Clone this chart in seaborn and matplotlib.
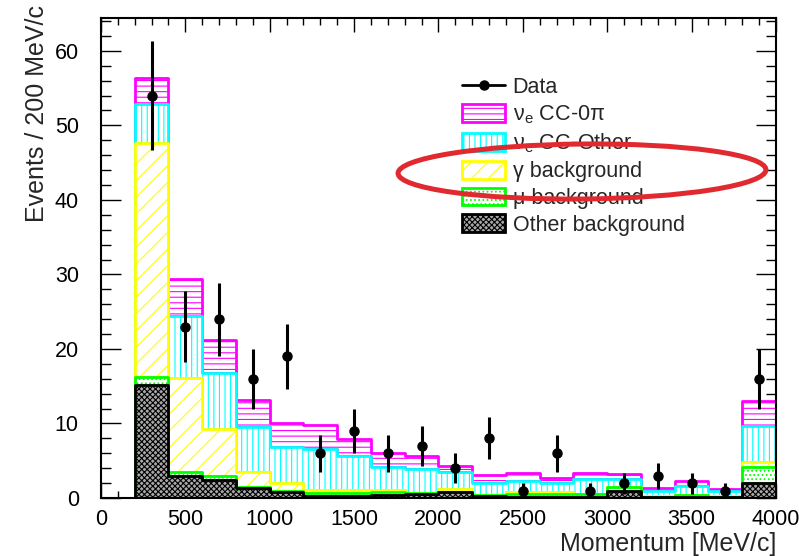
import numpy as np
import pandas as pd
import matplotlib
matplotlib.use("Agg")
import matplotlib.pyplot as plt
import seaborn as sns
from matplotlib.patches import Patch, Ellipse
from matplotlib.lines import Line2D
from matplotlib.ticker import MultipleLocator
from matplotlib.colors import to_rgb

# ---------------- data ----------------
bin_centers = [100, 300, 500, 700, 900, 1100, 1300, 1500, 1700, 1900,
               2100, 2300, 2500, 2700, 2900, 3100, 3300, 3500, 3700, 3900]
data_counts = [0, 54, 23, 24, 16, 19, 6, 9, 6, 7,
               4, 8, 1, 6, 1, 2, 3, 2, 1, 16]
other_bkg = [0, 15.2, 2.9, 2.4, 1.3, 0.8, 0.3, 0.3, 0.4, 0.6,
             0.8, 0.3, 0.2, 0.2, 0.2, 1.0, 0.15, 0.1, 0.1, 2.0]
mu_bkg = [0, 1.1, 0.6, 0.5, 0.2, 0.2, 0.4, 0.4, 0.4, 0.05,
          0.05, 0.05, 0.35, 0.35, 0.3, 0.45, 0.05, 0.25, 0.1, 2.1]
gamma_bkg = [0, 31.3, 12.6, 6.4, 2.0, 1.0, 0.4, 0.4, 0.3, 0.05,
             0.35, 0.05, 0.25, 0.25, 0.05, 0.05, 0.05, 0.05, 0.05, 0.7]
nue_cc_other = [0, 5.2, 8.3, 7.5, 6.0, 4.8, 5.5, 4.5, 3.1, 3.2,
                2.3, 1.6, 1.5, 1.2, 2.05, 1.1, 0.75, 1.2, 0.65, 4.8]
nue_cc0pi = [0, 3.5, 5.0, 4.4, 3.6, 3.2, 3.2, 2.3, 1.9, 1.8,
             0.8, 1.1, 1.0, 0.7, 0.8, 0.6, 0.3, 0.7, 0.3, 3.4]

component_names = ["cc0pi", "ccother", "gamma", "mu", "other"]
component_labels = [r"ν$_{\rm e}$ CC-0π", r"ν$_{\rm e}$ CC-Other",
                    "γ background", "μ background", "Other background"]
bin_width = 200
x_min, x_max = 0, 4000
y_max = 64.4

# ---------------- style ----------------
sns.set_theme(style="ticks")
plt.rcParams["font.family"] = ["Liberation Sans", "DejaVu Sans"]
plt.rcParams["mathtext.fontset"] = "custom"
plt.rcParams["mathtext.rm"] = "Liberation Sans"
plt.rcParams["mathtext.it"] = "Liberation Sans:italic"
plt.rcParams["hatch.linewidth"] = 0.8

colors = {"cc0pi": "#ff00ff", "ccother": "#00ffff", "gamma": "#ffff00",
          "mu": "#00ff00", "other": "#000000"}
hatches = {"cc0pi": "---", "ccother": "|||", "gamma": "//",
           "mu": "....", "other": "xxxxxx"}
faces = {"cc0pi": "white", "ccother": "white", "gamma": "white",
         "mu": "white", "other": "#a8a8a8"}
zorders = {"cc0pi": 2.0, "ccother": 2.1, "gamma": 2.2, "mu": 2.3, "other": 2.4}

fig = plt.figure(figsize=(7.99, 5.56), dpi=100)
ax = fig.add_axes([0.1264, 0.1043, 0.8448, 0.8633])

values = {"cc0pi": nue_cc0pi, "ccother": nue_cc_other, "gamma": gamma_bkg,
          "mu": mu_bkg, "other": other_bkg}
rows = []
for name in component_names:
    for c, v in zip(bin_centers, values[name]):
        rows.append({"Momentum": c, "Events": v, "Component": name})
df = pd.DataFrame(rows)

edges = [float(e) for e in np.arange(x_min, x_max + bin_width, bin_width)]
sns.histplot(data=df, x="Momentum", weights="Events", hue="Component",
             hue_order=component_names, palette=colors, bins=edges,
             multiple="stack", element="step", fill=True, legend=False, ax=ax)

# restyle the stacked layers ROOT-like
for coll in ax.collections:
    fc = np.array(coll.get_facecolor()).reshape(-1, 4)
    if len(fc) == 0:
        continue
    rgb = fc[0][:3]
    best = min(component_names,
               key=lambda n: np.sum((np.array(to_rgb(colors[n])) - rgb) ** 2))
    coll.set_alpha(1)
    coll.set_facecolor(faces[best])
    coll.set_edgecolor(colors[best])
    coll.set_hatch(hatches[best])
    coll.set_linewidth(2.0)
    coll.set_zorder(zorders[best])

# data points
dc = np.array(data_counts, dtype=float)
bc = np.array(bin_centers, dtype=float)
m = dc > 0
ax.errorbar(bc[m], dc[m], yerr=np.sqrt(dc[m]), fmt="o", color="black",
            ms=6.5, elinewidth=2.2, capsize=0, zorder=10)

ax.set_xlim(x_min, x_max)
ax.set_ylim(0, y_max)
ax.xaxis.set_major_locator(MultipleLocator(500))
ax.xaxis.set_minor_locator(MultipleLocator(100))
ax.yaxis.set_major_locator(MultipleLocator(10))
ax.yaxis.set_minor_locator(MultipleLocator(2))
ax.tick_params(which="both", direction="in", top=True, right=True,
               width=1.0, color="black", labelsize=15.5, labelcolor="black")
ax.tick_params(axis="x", which="major", length=10.4, pad=8)
ax.tick_params(axis="x", which="minor", length=5.2)
ax.tick_params(axis="y", which="major", length=14.5, pad=16)
ax.tick_params(axis="y", which="minor", length=7.2)
for sp in ax.spines.values():
    sp.set_linewidth(1.5)
    sp.set_color("black")
    sp.set_zorder(20)

ax.set_xlabel("Momentum [MeV/c]", fontsize=18, ha="right", va="center")
ax.xaxis.set_label_coords(1.0, -0.096)
ylab = ax.set_ylabel("Events / 200 MeV/c", fontsize=18)
ylab.set_rotation_mode("anchor")
ylab.set_ha("right")
ylab.set_va("center")
ax.yaxis.set_label_coords(-0.095, 1.027)

handles = [Line2D([0], [0], color="black", lw=2, marker="o", ms=6.5)]
for name in component_names:
    handles.append(Patch(facecolor=faces[name], edgecolor=colors[name],
                         hatch=hatches[name], lw=2))
labels = ["Data"] + component_labels
leg = ax.legend(handles, labels, loc="upper left", bbox_to_anchor=(0.535, 0.877),
                frameon=False, fontsize=15.5, handlelength=2.0, handleheight=0.9,
                handletextpad=0.35, labelspacing=0.25, borderaxespad=0, borderpad=0)
leg.set_zorder(15)

# red highlight ellipse around the "γ background" legend entry
ax.add_patch(Ellipse((0.7126, 0.6802), 0.545, 0.1146, angle=0.8,
                     transform=ax.transAxes, fill=False, edgecolor="#e02a30",
                     linewidth=3.6, clip_on=False, zorder=30))

fig.savefig("out.png", dpi=100)
